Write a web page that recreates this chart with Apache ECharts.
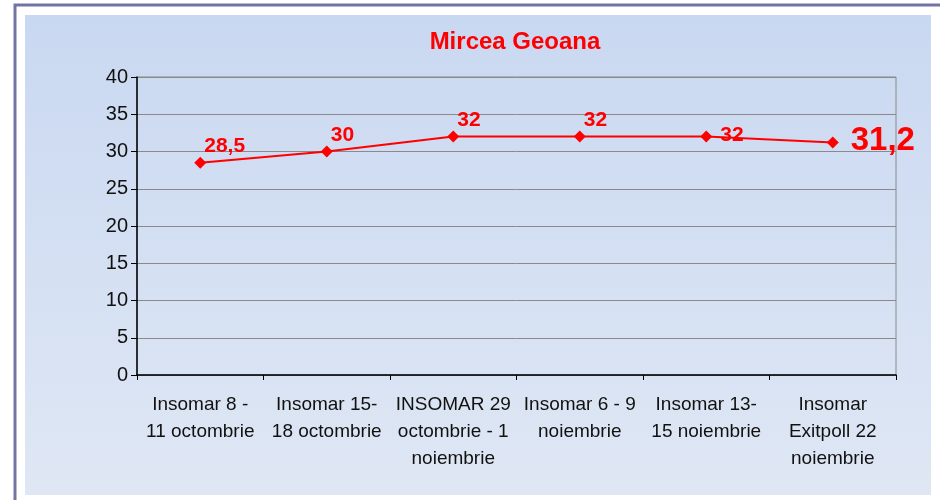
<!DOCTYPE html>
<html>
<head>
<meta charset="utf-8">
<script src="https://cdn.jsdelivr.net/npm/echarts@6/dist/echarts.min.js"></script>
<style>
  html, body { margin: 0; padding: 0; background: #fff; }
  #main { width: 940px; height: 500px; }
</style>
</head>
<body>
<div id="main"></div>
<script>
// sondaje Mircea Geoana
var categories = [
  'Insomar 8 -\n11 octombrie',
  'Insomar 15-\n18 octombrie',
  'INSOMAR 29\noctombrie - 1\nnoiembrie',
  'Insomar 6 - 9\nnoiembrie',
  'Insomar 13-\n15 noiembrie',
  'Insomar\nExitpoll 22\nnoiembrie'
];
var values = [28.5, 30, 32, 32, 32, 31.2];
var yTicks = [0, 5, 10, 15, 20, 25, 30, 35, 40];

var red = '#ff0000';
var last = values.length - 1;

function fmt(v) {
  return String(v).replace('.', ',');
}

var seriesData = values.map(function (v, i) {
  var item = { value: v };
  if (i === last) {
    item.label = { position: 'right', distance: 12, offset: [0, -2], fontSize: 33 };
  } else if (i === last - 1) {
    item.label = { position: 'right', distance: 8, offset: [0, -1] };
  }
  return item;
});

var chart = echarts.init(document.getElementById('main'), null, { renderer: 'canvas' });

var option = {
  backgroundColor: '#ffffff',
  animation: false,
  graphic: [
    {
      type: 'rect', z: -10, silent: true,
      shape: { x: 15, y: 5, width: 940, height: 510 },
      style: { fill: '#ffffff', stroke: '#7474a4', lineWidth: 3 }
    },
    {
      type: 'rect', z: -9, silent: true,
      shape: { x: 25, y: 15, width: 906, height: 480 },
      style: {
        fill: new echarts.graphic.LinearGradient(0, 0, 0, 1, [
          { offset: 0, color: '#c9d8f1' },
          { offset: 1, color: '#dfe7f4' }
        ])
      }
    }
  ],
  title: {
    text: 'Mircea Geoana',
    left: 510,
    top: 25,
    textAlign: 'center',
    textStyle: { color: red, fontFamily: 'Liberation Sans, Arial', fontSize: 24, fontWeight: 'bold' }
  },
  grid: { left: 137, right: 44, top: 77, bottom: 125, show: true, borderColor: '#8a8a8a', borderWidth: 1 },
  xAxis: {
    type: 'category',
    data: categories,
    boundaryGap: true,
    axisLine: { lineStyle: { color: '#000', width: 1.5 } },
    axisTick: { show: true, length: 5, lineStyle: { color: '#000' }, alignWithLabel: false },
    axisLabel: {
      color: '#111',
      fontFamily: 'Liberation Sans, Arial',
      fontSize: 19,
      lineHeight: 27,
      margin: 16,
      interval: 0
    }
  },
  yAxis: {
    type: 'value',
    min: yTicks[0],
    max: yTicks[yTicks.length - 1],
    interval: yTicks[1] - yTicks[0],
    axisLine: { show: true, lineStyle: { color: '#000', width: 1.5 } },
    axisTick: { show: true, length: 6, lineStyle: { color: '#000' } },
    splitLine: { lineStyle: { color: '#8a8a8a', width: 1 } },
    axisLabel: {
      color: '#111',
      fontFamily: 'Liberation Sans, Arial',
      fontSize: 20,
      margin: 9
    }
  },
  series: [{
    type: 'line',
    data: seriesData,
    symbol: 'diamond',
    symbolSize: 12,
    lineStyle: { color: red, width: 2 },
    itemStyle: { color: red },
    label: {
      show: true,
      position: 'right',
      distance: 0,
      offset: [-2, -16],
      color: red,
      fontFamily: 'Liberation Sans, Arial',
      fontWeight: 'bold',
      fontSize: 21,
      formatter: function (p) { return fmt(p.value); }
    }
  }]
};

chart.setOption(option);
</script>
</body>
</html>
